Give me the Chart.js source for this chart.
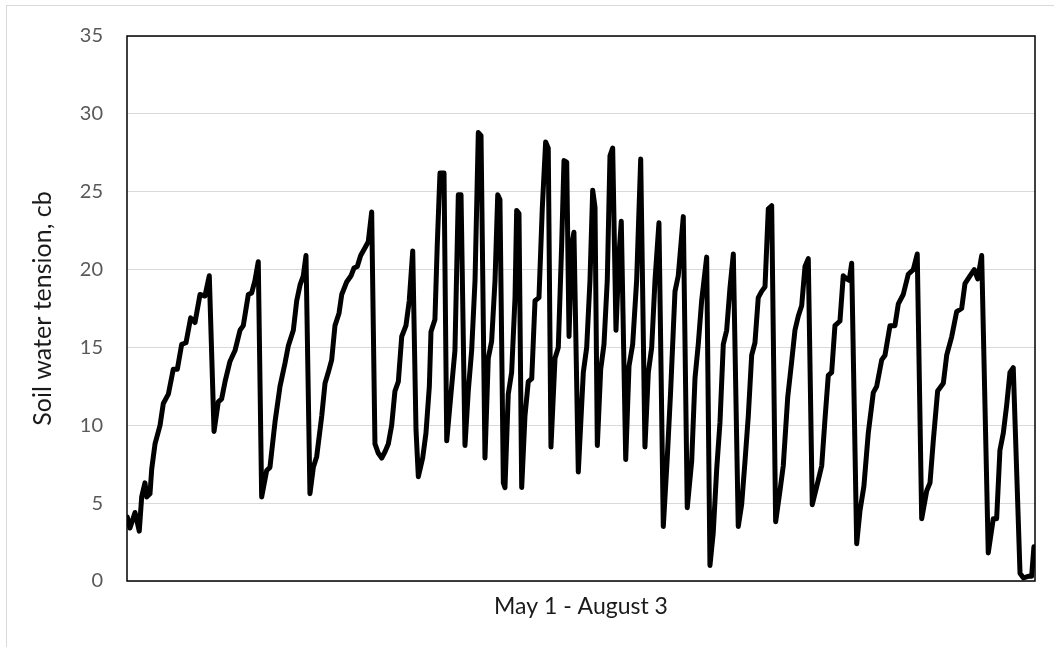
<!DOCTYPE html>
<html>
<head>
<meta charset="utf-8">
<title>Soil water tension</title>
<script src="https://cdn.jsdelivr.net/npm/chart.js@4.4.0/dist/chart.umd.min.js"></script>
<style>
    body { margin: 0; background: #fff; }
    #wrap { position: relative; width: 1054px; height: 647px; overflow: hidden; }
    #edge { position: absolute; left: 6px; top: 5px; right: -2px; bottom: -2px; border-left: 1px solid #d9d9d9; border-top: 1px solid #d9d9d9; }
    #chart { position: absolute; left: 0; top: 0; }
</style>
</head>
<body>
<div id="wrap">
    <div id="edge"></div>
    <canvas id="chart" width="1054" height="647"></canvas>
</div>
<script>
// days since May 1 (readings)
var days = [
    0.03, 0.31, 0.83, 1.27, 1.52, 1.86, 2.04, 2.38, 2.56, 2.90, 3.42, 3.76, 4.28, 4.79, 5.21, 5.66, 6.11, 6.59, 7.04, 7.56,
    8.07, 8.52, 9.01, 9.45, 9.80, 10.15, 10.66, 11.18, 11.70, 12.04, 12.56, 12.91, 13.25, 13.59, 13.94, 14.46, 14.80, 15.32, 15.84, 16.36,
    16.70, 17.22, 17.57, 17.91, 18.25, 18.53, 18.94, 19.29, 19.64, 20.16, 20.50, 20.84, 21.19, 21.53, 21.95, 22.23, 22.74, 23.19, 23.50, 23.84,
    24.19, 24.64, 24.98, 25.33, 25.67, 26.02, 26.37, 26.71, 27.05, 27.40, 27.74, 28.09, 28.44, 28.88, 29.22, 29.58, 29.92, 30.16, 30.61, 30.95,
    31.30, 31.47, 31.88, 32.12, 32.40, 32.82, 33.10, 33.61, 33.95, 34.30, 34.58, 34.99, 35.33, 35.68, 36.03, 36.37, 36.65, 37.06, 37.40, 37.75,
    38.10, 38.38, 38.61, 38.96, 39.13, 39.47, 39.82, 40.17, 40.34, 40.58, 40.86, 41.20, 41.54, 41.90, 42.24, 42.65, 42.99, 43.34, 43.61, 43.89,
    44.31, 44.65, 45.00, 45.24, 45.52, 45.76, 46.04, 46.27, 46.72, 47.24, 47.59, 47.93, 48.21, 48.45, 48.69, 49.04, 49.38, 49.72, 50.00, 50.28,
    50.62, 50.96, 51.17, 51.63, 51.97, 52.35, 52.76, 53.18, 53.62, 53.97, 54.32, 54.66, 55.07, 55.52, 55.93, 56.28, 56.73, 57.07, 57.59, 58.00,
    58.46, 58.80, 59.14, 59.49, 60.01, 60.35, 60.69, 61.05, 61.39, 61.73, 62.08, 62.42, 62.77, 63.28, 63.63, 63.98, 64.32, 64.67, 65.01, 65.35,
    65.70, 66.05, 66.39, 66.74, 67.15, 67.60, 67.94, 68.40, 68.81, 69.15, 69.49, 69.85, 70.19, 70.53, 70.94, 71.57, 71.92, 72.26, 72.60, 72.95,
    73.29, 73.81, 74.15, 74.50, 74.77, 75.02, 75.54, 75.88, 76.29, 76.74, 77.26, 77.61, 78.13, 78.47, 78.99, 79.50, 79.85, 80.36, 80.88, 81.40,
    81.81, 82.27, 82.79, 83.13, 83.47, 83.92, 84.51, 84.86, 85.38, 85.89, 86.41, 86.75, 87.27, 87.71, 88.07, 88.48, 89.16, 89.68, 90.03, 90.37,
    90.72, 91.07, 91.41, 91.75, 92.45, 92.79, 93.30, 93.65, 93.89
];

// soil water tension, cb
var tension = [
    4.1, 3.4, 4.4, 3.2, 5.4, 6.3, 5.4, 5.6, 7.2, 8.8, 10.0, 11.4, 12.0, 13.6, 13.6, 15.2, 15.3, 16.9, 16.6, 18.4,
    18.3, 19.6, 9.6, 11.5, 11.7, 12.8, 14.1, 14.8, 16.1, 16.4, 18.4, 18.5, 19.3, 20.5, 5.4, 7.1, 7.3, 10.2, 12.5, 14.0,
    15.1, 16.1, 18.0, 19.0, 19.6, 20.9, 5.6, 7.3, 8.0, 10.6, 12.7, 13.4, 14.2, 16.4, 17.2, 18.4, 19.2, 19.6, 20.1, 20.2,
    20.9, 21.4, 21.8, 23.7, 8.8, 8.2, 7.9, 8.3, 8.8, 10.0, 12.2, 12.8, 15.7, 16.4, 18.0, 21.2, 9.7, 6.7, 7.9, 9.5,
    12.5, 16.0, 16.8, 21.6, 26.2, 26.2, 9.0, 12.5, 14.8, 24.8, 24.8, 8.7, 12.2, 14.8, 19.3, 28.8, 28.6, 7.9, 14.3, 15.4,
    19.3, 24.8, 24.5, 6.3, 6.0, 12.0, 13.4, 18.2, 23.8, 23.6, 6.0, 10.6, 12.8, 13.0, 18.0, 18.2, 23.9, 28.2, 27.8, 8.6,
    14.3, 15.0, 21.6, 27.0, 26.9, 15.7, 21.6, 22.4, 7.0, 13.4, 15.0, 19.3, 25.1, 24.0, 8.7, 13.6, 15.2, 19.3, 27.3, 27.8,
    16.1, 21.2, 23.1, 7.8, 13.8, 15.2, 19.3, 27.1, 8.6, 13.4, 15.0, 19.3, 23.0, 3.5, 7.9, 12.2, 18.6, 19.6, 23.4, 4.7,
    7.7, 13.0, 15.2, 18.0, 20.8, 1.0, 3.1, 7.2, 10.2, 15.2, 16.1, 18.8, 21.0, 3.5, 4.9, 7.7, 10.6, 14.5, 15.3, 18.2,
    18.6, 18.9, 23.9, 24.1, 3.8, 5.8, 7.4, 11.8, 14.1, 16.1, 17.0, 17.7, 20.2, 20.7, 4.9, 6.5, 7.4, 10.4, 13.2, 13.4,
    16.4, 16.7, 19.6, 19.4, 19.3, 20.4, 2.4, 4.5, 6.1, 9.5, 12.1, 12.5, 14.2, 14.5, 16.4, 16.4, 17.8, 18.4, 19.7, 20.0,
    21.0, 4.0, 5.8, 6.3, 9.0, 12.2, 12.7, 14.5, 15.7, 17.3, 17.5, 19.1, 19.6, 20.0, 19.4, 20.9, 1.8, 4.0, 4.0, 8.4,
    9.5, 11.3, 13.4, 13.7, 0.5, 0.2, 0.3, 0.3, 2.2
];

var yTicks = [0, 5, 10, 15, 20, 25, 30, 35];
var xTitle = 'May 1 - August 3';
var yTitle = 'Soil water tension, cb';

var fontFamily = 'Lato, "Open Sans", sans-serif';

// black box round the plot area, drawn under the line
var plotFrame = {
    id: 'plotFrame',
    beforeDatasetsDraw: function (chart) {
        var a = chart.chartArea;
        var ctx = chart.ctx;
        ctx.save();
        ctx.strokeStyle = '#000';
        ctx.lineWidth = 1.5;
        ctx.strokeRect(a.left, a.top, a.right - a.left, a.bottom - a.top);
        ctx.restore();
    }
};

var points = days.map(function (d, i) {
    return { x: d, y: tension[i] };
});

var ctx = document.getElementById('chart').getContext('2d');
var chart = new Chart(ctx, {
    type: 'line',
    data: {
        datasets: [{
            data: points,
            borderColor: '#000',
            borderWidth: 5,
            borderJoinStyle: 'round',
            borderCapStyle: 'round',
            pointRadius: 0,
            fill: false,
            tension: 0
        }]
    },
    options: {
        responsive: false,
        animation: false,
        devicePixelRatio: 1,
        layout: { padding: { left: 0, right: 19, top: 36, bottom: 0 } },
        plugins: {
            legend: { display: false },
            tooltip: { enabled: false }
        },
        scales: {
            x: {
                type: 'linear',
                min: 0,
                max: 94,
                grid: { display: false },
                border: { display: false },
                ticks: { display: false },
                title: {
                    display: true,
                    text: xTitle,
                    color: '#1a1a1a',
                    font: { family: fontFamily, size: 23 },
                    padding: { top: 0, bottom: 27 }
                },
                afterFit: function (scale) { scale.height = 66; }
            },
            y: {
                min: 0,
                max: 35,
                afterBuildTicks: function (scale) {
                    scale.ticks = yTicks.map(function (v) { return { value: v }; });
                },
                grid: { color: '#d9d9d9', lineWidth: 1, drawTicks: false },
                border: { display: false },
                ticks: {
                    color: '#595959',
                    padding: 24,
                    font: { family: fontFamily, size: 20 }
                },
                title: {
                    display: true,
                    text: yTitle,
                    color: '#1a1a1a',
                    font: { family: fontFamily, size: 25 },
                    padding: { top: 28, bottom: 0 }
                },
                afterFit: function (scale) { scale.width = 127; }
            }
        }
    },
    plugins: [plotFrame]
});
</script>
</body>
</html>
